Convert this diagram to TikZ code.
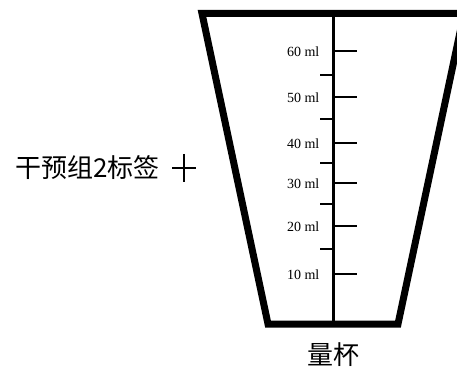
\documentclass[tikz,border=0pt]{standalone}
\usepackage{fontspec}
\setmainfont{Liberation Serif}
\newfontfamily\cjk{Noto Sans CJK SC}
\begin{document}
\begin{tikzpicture}[x=1pt,y=-1pt,
  wall/.style={line width=7pt, line join=miter},
  axis/.style={line width=3pt},
  major/.style={line width=2pt},
  minor/.style={line width=2pt},
  mark label/.style={anchor=east, inner sep=0pt, font=\fontsize{14}{14}\selectfont},
  cjk label/.style={inner sep=0pt, font=\cjk\fontsize{26}{26}\selectfont}]
\useasboundingbox (0,0) rectangle (457,374);
% cup outline (its right top corner runs past the page edge)
\coordinate (tl) at (202,13.5);
\coordinate (bl) at (268,324);
\coordinate (br) at (398,324);
\coordinate (tr) at (464,13.5);
\begin{scope}
  \clip (0,0) rectangle (457,374);
  \draw[wall] (tl) -- (bl) -- (br) -- (tr) -- cycle;
\end{scope}
% central scale line
\coordinate (atop) at (333,13.5);
\coordinate (abot) at (333,324);
\draw[axis] (atop) -- (abot);
% major ticks with labels
\foreach \y/\v in {51/60,97/50,143/40,183/30,226/20,274/10}{
  \coordinate (m\v) at (333,\y);
  \coordinate (me\v) at (357,\y);
  \draw[major] (m\v) -- (me\v);
  \node[mark label] (l\v) at (319.5,\y+1) {\v{} ml};
}
% minor ticks
\foreach \y [count=\i] in {75,119,163,204,249}{
  \coordinate (n\i) at (333,\y);
  \coordinate (ne\i) at (320,\y);
  \draw[minor] (n\i) -- (ne\i);
}
% labels
\node[cjk label, anchor=west] (group) at (15,168) {干预组2标签};
\coordinate (pc) at (184,168);
\draw[line width=1.6pt] ([xshift=-12pt]pc) -- ([xshift=12pt]pc);
\draw[line width=1.6pt] ([yshift=14pt]pc) -- ([yshift=-14pt]pc);
\node[cjk label] (cup) at (333,355) {量杯};
\end{tikzpicture}
\end{document}
